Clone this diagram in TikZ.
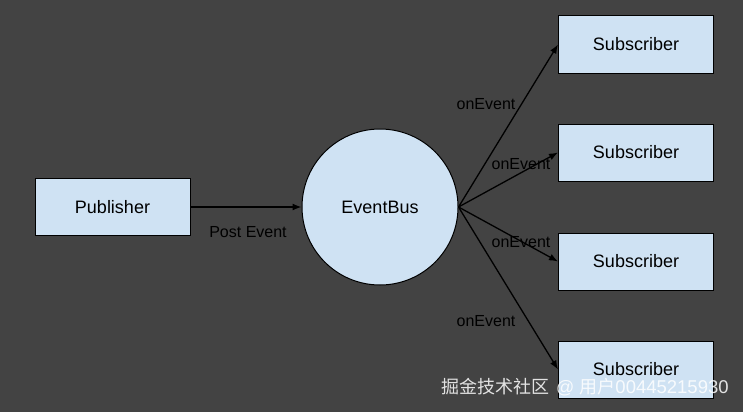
\documentclass[tikz,border=0pt]{standalone}
\usepackage{fontspec}
\setmainfont{Liberation Sans}
\newfontfamily\cjkfont{Noto Sans CJK SC}
\usetikzlibrary{arrows.meta}
\definecolor{bgGray}{HTML}{434343}
\definecolor{boxBlue}{HTML}{CFE2F3}
\begin{document}
\begin{tikzpicture}[
    x=1pt, y=-1pt,
    % Boîtes et cercle
    block/.style={draw=black, line width=1pt, fill=boxBlue,
        minimum width=155pt, minimum height=57pt, inner sep=0pt,
        font=\fontsize{18}{21}\selectfont},
    bus/.style={draw=black, line width=1pt, fill=boxBlue, circle,
        minimum size=156pt, inner sep=0pt, font=\fontsize{18}{21}\selectfont},
    % Flèches et étiquettes
    link/.style={draw=black, line width=1.3pt, -{Latex[length=9pt,width=7pt]}},
    tag/.style={font=\fontsize{16}{19}\selectfont, inner sep=0pt}
]
% Fond
\fill[bgGray] (0,0) rectangle (743,412);
\useasboundingbox (0,0) rectangle (743,412);
% Noeuds
\node[block] (pub) at (112.5,207) {Publisher};
\node[bus] (bus) at (380,207) {EventBus};
\node[block] (subA) at (636,44.5) {Subscriber};
\node[block] (subB) at (636,152.5) {Subscriber};
\node[block] (subC) at (636,261.5) {Subscriber};
\node[block] (subD) at (636,369.5) {Subscriber};
% Liaisons
\draw[link] (pub) -- (bus.west);
\draw[link] (bus.east) -- (subA.west);
\draw[link] (bus.east) -- (subB.west);
\draw[link] (bus.east) -- (subC.west);
\draw[link] (bus.east) -- (subD.west);
% Étiquettes
\node[tag] (lpost) at (248,232) {Post Event};
\node[tag] (lA) at (486,104) {onEvent};
\node[tag] (lB) at (521,164) {onEvent};
\node[tag] (lC) at (521,242) {onEvent};
\node[tag] (lD) at (486,321) {onEvent};
% Filigrane
\node[anchor=west, text=white, opacity=0.85, inner sep=0pt,
    font=\cjkfont\fontsize{18}{21}\selectfont] (mark) at (441,387)
    {掘金技术社区\hspace{7pt}{\rmfamily\fontsize{18}{21}\selectfont @}\hspace{5pt}用户{\rmfamily\fontsize{18.5}{21}\selectfont 00445215930}};
\end{tikzpicture}
\end{document}
